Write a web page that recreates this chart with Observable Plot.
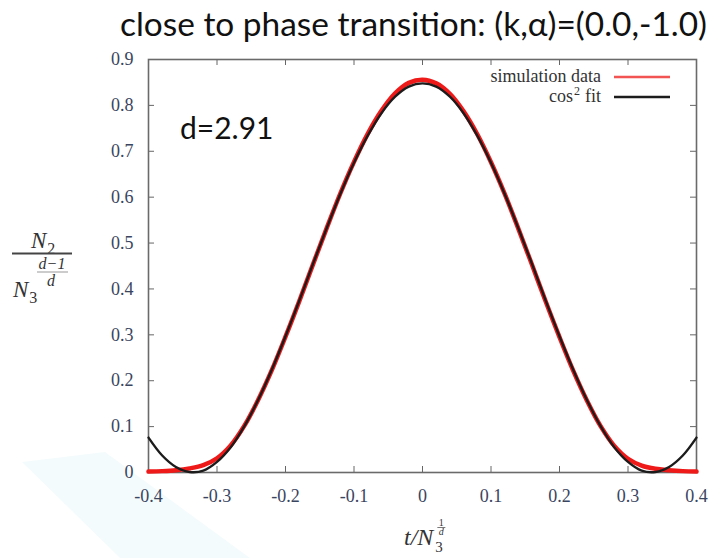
<!DOCTYPE html>
<html>
<head>
<meta charset="utf-8">
<script src="https://cdn.jsdelivr.net/npm/d3@7"></script>
<script src="https://cdn.jsdelivr.net/npm/@observablehq/plot@0.6"></script>
<style>
  html, body { margin: 0; padding: 0; background: #fff; }
  body { width: 712px; height: 558px; overflow: hidden; position: relative; }
  #swoosh { position: absolute; left: 0; top: 0; width: 712px; height: 558px;
    background: #f4fbfc; clip-path: polygon(22px 462px, 105px 452px, 250px 558px, 120px 558px); }
  #title { position: absolute; left: 120px; top: 2px; white-space: nowrap;
    font-family: Lato, "Open Sans", sans-serif; font-size: 33px; color: #111;
    transform-origin: 0 0; line-height: 42px; }
  #chart { position: absolute; left: 0; top: 50px; }
</style>
</head>
<body>
<div id="swoosh"></div>
<div id="title">close to phase transition: (k,α)=(0.0,-1.0)</div>
<div id="chart"></div>
<script>
// Time axis t / N3^(1/d), sampled every 0.02
const tValues = [
  -0.40, -0.38, -0.36, -0.34, -0.32, -0.30, -0.28, -0.26, -0.24, -0.22, -0.20,
  -0.18, -0.16, -0.14, -0.12, -0.10, -0.08, -0.06, -0.04, -0.02, 0.00,
   0.02, 0.04, 0.06, 0.08, 0.10, 0.12, 0.14, 0.16, 0.18, 0.20,
   0.22, 0.24, 0.26, 0.28, 0.30, 0.32, 0.34, 0.36, 0.38, 0.40
];
// Measured volume profile N2 / N3^((d-1)/d)
const simulationValues = [
  0.002, 0.003, 0.005, 0.009, 0.016, 0.031, 0.059, 0.102, 0.158, 0.223, 0.296,
  0.373, 0.453, 0.532, 0.608, 0.677, 0.738, 0.788, 0.826, 0.849, 0.856,
  0.848, 0.825, 0.787, 0.737, 0.676, 0.607, 0.531, 0.452, 0.372, 0.295,
  0.222, 0.157, 0.101, 0.058, 0.030, 0.015, 0.008, 0.005, 0.003, 0.002
];
// cos^2 fit evaluated on the same grid
const fitValues = [
  0.076, 0.037, 0.012, 0.001, 0.004, 0.023, 0.055, 0.101, 0.158, 0.224, 0.297,
  0.374, 0.454, 0.532, 0.607, 0.675, 0.734, 0.783, 0.819, 0.841, 0.848,
  0.841, 0.819, 0.783, 0.734, 0.675, 0.607, 0.532, 0.454, 0.374, 0.297,
  0.224, 0.158, 0.101, 0.055, 0.023, 0.004, 0.001, 0.012, 0.037, 0.076
];

const xTicks = [-0.4, -0.3, -0.2, -0.1, 0, 0.1, 0.2, 0.3, 0.4];
const xTickLabels = ["-0.4", "-0.3", "-0.2", "-0.1", "0", "0.1", "0.2", "0.3", "0.4"];
const yTicks = [0, 0.1, 0.2, 0.3, 0.4, 0.5, 0.6, 0.7, 0.8, 0.9];
const yTickLabels = ["0", "0.1", "0.2", "0.3", "0.4", "0.5", "0.6", "0.7", "0.8", "0.9"];

const seriesNames = ["simulation data", "cos² fit"];
const seriesColors = ["#ee1a1a", "#1c1c1c"];
const annotation = "d=2.91";

const simulation = tValues.map((t, i) => ({t, v: simulationValues[i]}));
const fit = tValues.map((t, i) => ({t, v: fitValues[i]}));

const serif = "'Liberation Serif', 'DejaVu Serif', serif";
const inkColor = "#3a4560";

const W = 712, H = 508;
const M = {top: 9, right: 16, bottom: 86, left: 148};
const frameW = W - M.left - M.right;
const frameH = H - M.top - M.bottom;
const tickLen = 6;

const chart = Plot.plot({
  width: W,
  height: H,
  marginTop: M.top,
  marginBottom: M.bottom,
  marginLeft: M.left,
  marginRight: M.right,
  x: {domain: [-0.4, 0.4]},
  y: {domain: [0, 0.9]},
  style: {fontFamily: serif, fontSize: "18px", color: inkColor, background: "transparent", overflow: "visible"},
  marks: [
    // tick labels
    Plot.axisX(xTicks, {anchor: "bottom", tickSize: 0, tickPadding: 17, label: null,
      tickFormat: d => xTickLabels[xTicks.indexOf(d)]}),
    Plot.axisY(yTicks, {anchor: "left", tickSize: 0, tickPadding: 15, label: null,
      tickFormat: d => yTickLabels[yTicks.indexOf(d)]}),
    // inward tick marks on all four sides
    Plot.tickX(xTicks, {x: d => d, stroke: "#666", insetTop: frameH - tickLen}),
    Plot.tickX(xTicks, {x: d => d, stroke: "#666", insetBottom: frameH - tickLen}),
    Plot.tickY(yTicks, {y: d => d, stroke: "#666", insetRight: frameW - tickLen}),
    Plot.tickY(yTicks, {y: d => d, stroke: "#666", insetLeft: frameW - tickLen}),
    Plot.frame({stroke: "#6a6a6a", strokeWidth: 1.6}),
    Plot.line(simulation, {x: "t", y: "v", stroke: seriesColors[0], strokeWidth: 4.5, curve: "catmull-rom"}),
    Plot.line(fit, {x: "t", y: "v", stroke: seriesColors[1], strokeWidth: 2.4, curve: "catmull-rom"})
  ]
});
document.getElementById("chart").append(chart);

// Title fitted to its width
const title = document.getElementById("title");
const tw = title.getBoundingClientRect().width;
title.style.transform = `scaleX(${587 / tw})`;

const svg = d3.select(chart);

// Annotation of the fitted dimension
svg.append("text")
  .attr("x", 180).attr("y", 89)
  .attr("text-anchor", "start")
  .attr("font-family", "Lato, 'Open Sans', sans-serif")
  .attr("font-size", 30).attr("fill", "#111")
  .text(annotation);

// Legend (top right, inside the frame)
const legend = svg.append("g").attr("font-family", serif).attr("font-size", 18)
  .attr("fill", "#333").attr("text-anchor", "end");
seriesNames.forEach((name, i) => {
  const y = 27 + i * 20;
  if (name.includes("²")) {
    // "cos", superscript "2", "fit" laid out right to left
    const [base, rest] = name.split("²");
    const tail = legend.append("text").attr("x", 601).attr("y", y + 5).text(rest.trim());
    const x2 = 601 - tail.node().getComputedTextLength() - 5;
    const sup = legend.append("text").attr("x", x2).attr("y", y - 2).attr("font-size", 12).text("2");
    const x3 = x2 - sup.node().getComputedTextLength() - 1;
    legend.append("text").attr("x", x3).attr("y", y + 5).text(base);
  } else {
    legend.append("text").attr("x", 601).attr("y", y + 5).text(name);
  }
  legend.append("line").attr("x1", 614).attr("x2", 670).attr("y1", y).attr("y2", y)
    .attr("stroke", seriesColors[i]).attr("stroke-width", 2.5)
    .attr("opacity", i === 0 ? 0.75 : 1);
});

// y-axis label: N2 / N3^((d-1)/d)
const yl = svg.append("g").attr("font-family", serif).attr("font-style", "italic")
  .attr("fill", "#333").attr("text-anchor", "start");
const n2 = yl.append("text").attr("x", 31).attr("y", 198).attr("font-size", 23).text("N");
yl.append("text").attr("x", 31 + n2.node().getComputedTextLength() + 1).attr("y", 204)
  .attr("font-size", 16).attr("font-style", "normal").text("2");
yl.append("line").attr("x1", 12).attr("x2", 72).attr("y1", 203.5).attr("y2", 203.5)
  .attr("stroke", "#444").attr("stroke-width", 1.8);
const n3 = yl.append("text").attr("x", 13).attr("y", 247).attr("font-size", 23).text("N");
yl.append("text").attr("x", 13 + n3.node().getComputedTextLength() + 1).attr("y", 253)
  .attr("font-size", 16).attr("font-style", "normal").text("3");
yl.append("text").attr("x", 52).attr("y", 219).attr("font-size", 16).attr("text-anchor", "middle").text("d−1");
yl.append("line").attr("x1", 37).attr("x2", 68).attr("y1", 222).attr("y2", 222)
  .attr("stroke", "#999").attr("stroke-width", 1);
yl.append("text").attr("x", 51).attr("y", 236).attr("font-size", 16).attr("text-anchor", "middle").text("d");

// x-axis label: t / N3^(1/d)
const xl = svg.append("g").attr("font-family", serif).attr("font-style", "italic")
  .attr("fill", "#333").attr("text-anchor", "start");
const tn = xl.append("text").attr("x", 404).attr("y", 495).attr("font-size", 24).text("t/N");
const xs = 404 + tn.node().getComputedTextLength() + 2;
xl.append("text").attr("x", xs).attr("y", 502).attr("font-size", 15).attr("font-style", "normal").text("3");
xl.append("text").attr("x", xs + 6).attr("y", 476).attr("font-size", 10).attr("font-style", "normal")
  .attr("text-anchor", "middle").text("1");
xl.append("line").attr("x1", xs + 2).attr("x2", xs + 10).attr("y1", 477.5).attr("y2", 477.5)
  .attr("stroke", "#555").attr("stroke-width", 0.8);
xl.append("text").attr("x", xs + 6).attr("y", 485).attr("font-size", 10).attr("text-anchor", "middle").text("d");
</script>
</body>
</html>
